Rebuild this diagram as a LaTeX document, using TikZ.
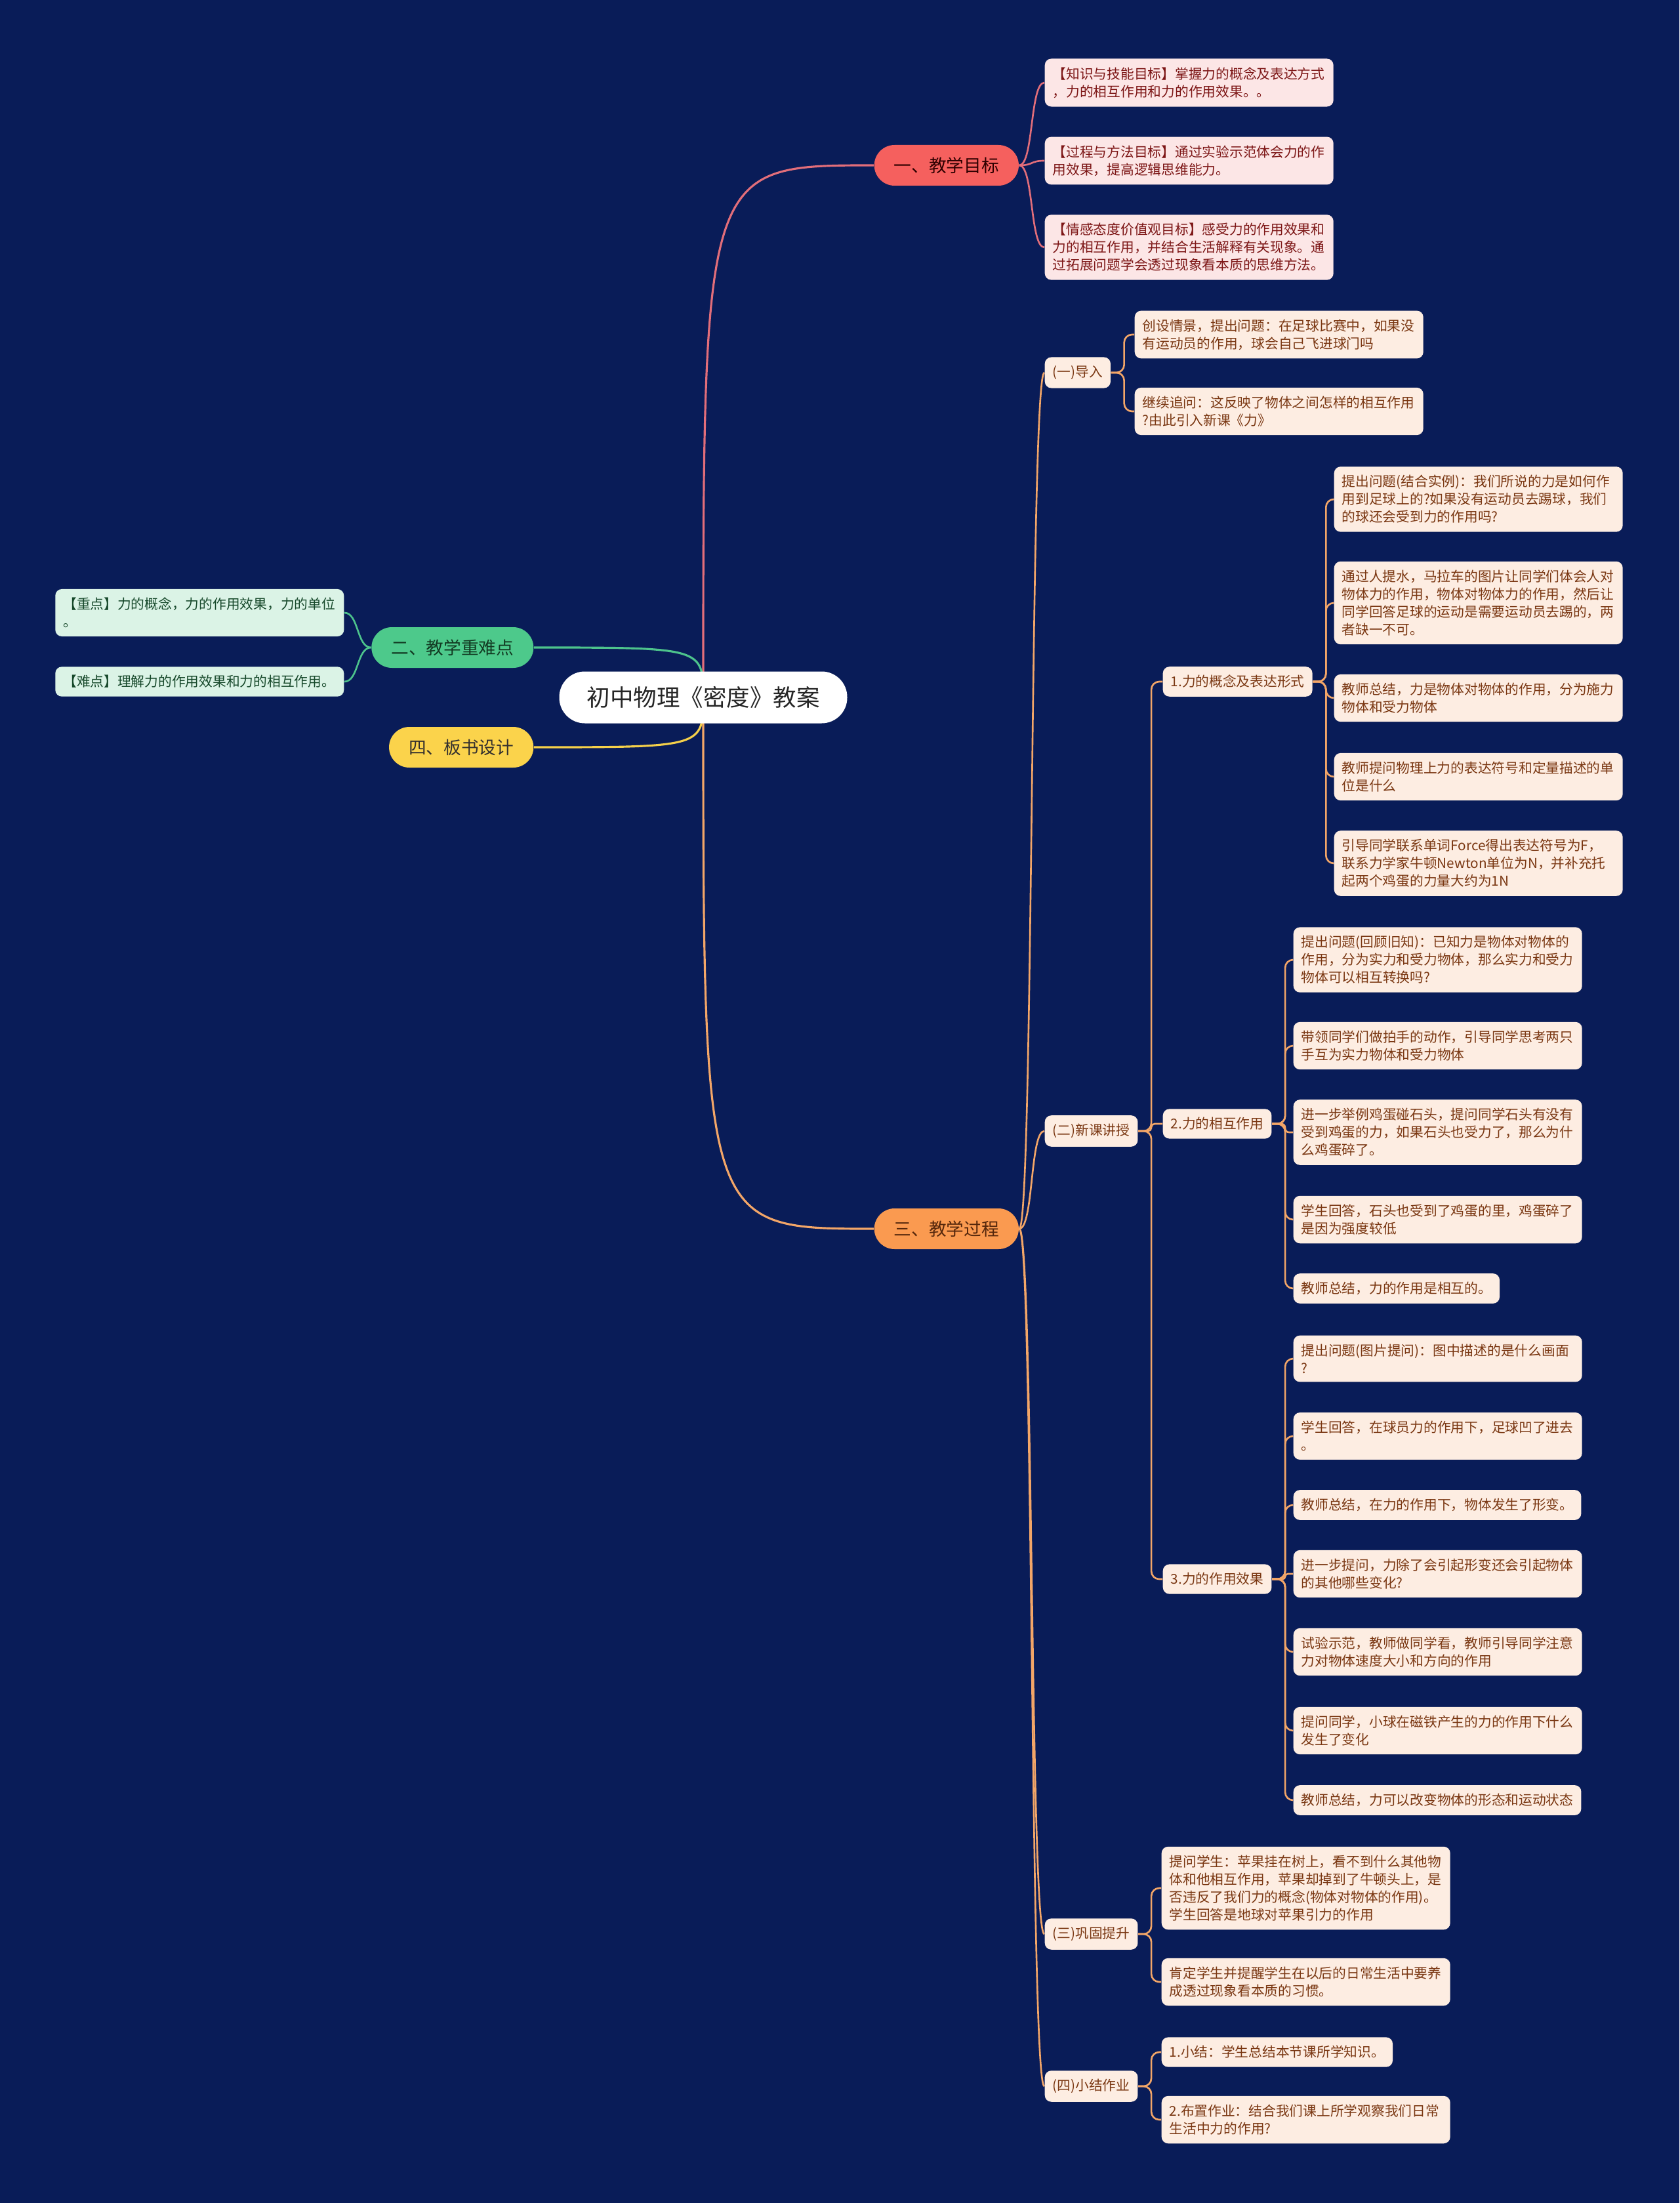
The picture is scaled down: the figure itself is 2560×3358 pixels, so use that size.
\documentclass[tikz,border=0pt]{standalone}
\usepackage{fontspec}
\newfontfamily\cjk{Noto Sans CJK SC}
\usetikzlibrary{backgrounds}
\definecolor{bgnavy}{RGB}{9,28,88}
\definecolor{redmain}{RGB}{245,96,94}
\definecolor{greenmain}{RGB}{77,201,139}
\definecolor{yellowmain}{RGB}{251,211,75}
\definecolor{orangemain}{RGB}{250,154,80}
\definecolor{redline}{RGB}{226,110,122}
\definecolor{orangeline}{RGB}{243,166,104}
\definecolor{greenline}{RGB}{77,195,140}
\definecolor{yellowline}{RGB}{245,208,74}
\definecolor{pinkleaf}{RGB}{252,230,230}
\definecolor{peachleaf}{RGB}{253,237,226}
\definecolor{mintleaf}{RGB}{219,243,230}
\definecolor{redtext}{RGB}{125,22,22}
\definecolor{browntext}{RGB}{122,55,18}
\definecolor{greentext}{RGB}{22,72,42}
\begin{document}
\begin{tikzpicture}[x=0.1mm,y=-0.1mm,line cap=round,line join=round,
	rootbox/.style={fill=white,text=black!85,rounded corners=3.9mm,minimum height=7.9mm,inner xsep=4.2mm,font=\cjk\fontsize{10.1}{12}\selectfont},
	mainbox/.style={rounded corners=3.1mm,minimum height=6.2mm,inner xsep=3mm,font=\cjk\fontsize{7.6}{9}\selectfont},
	leafbox/.style={rounded corners=1mm,align=left,inner xsep=1.2mm,inner ysep=1.3mm,font=\cjk\fontsize{5.9}{7.7}\selectfont},
	wide/.style={text width=41.6mm},
	goalleaf/.style={leafbox,wide,fill=pinkleaf,text=redtext,anchor=west},
	keyleaf/.style={leafbox,wide,fill=mintleaf,text=greentext,anchor=east},
	procleaf/.style={leafbox,fill=peachleaf,text=browntext,anchor=west},
	rootline/.style={line width=0.9pt},
	branch/.style={line width=0.75pt},
	elbow/.style={to path={-- ++(20,0) |- (\tikztotarget)}}]
	\def\cd{22}
	\def\xa{1592}
	\def\xb{1729}
	\def\xc{1772}
	\def\xd{2033}
	\def\xe{1971}
	
	\useasboundingbox (0,0) rectangle (2560,3358);
	
	\node[rootbox] (root) at (1072,1063) {初中物理《密度》教案};
	\node[mainbox,fill=redmain,text=black!70!red!60!black,anchor=west] (goal) at (1332,252) {一、教学目标};
	\node[mainbox,fill=greenmain,text=greentext!80!black,anchor=east] (keypt) at (814,987) {二、教学重难点};
	\node[mainbox,fill=yellowmain,text=black!80!yellow!40!black,anchor=east] (board) at (814,1139) {四、板书设计};
	\node[mainbox,fill=orangemain,text=browntext!70!black,anchor=west] (proc) at (1332,1873) {三、教学过程};
	
	% 一
	\node[goalleaf] (k1) at (\xa,126) {【知识与技能目标】掌握力的概念及表达方式\\，力的相互作用和力的作用效果。。};
	\node[goalleaf] (k2) at (\xa,245) {【过程与方法目标】通过实验示范体会力的作\\用效果，提高逻辑思维能力。};
	\node[goalleaf] (k3) at (\xa,377) {【情感态度价值观目标】感受力的作用效果和\\力的相互作用，并结合生活解释有关现象。通\\过拓展问题学会透过现象看本质的思维方法。};
	
	% 二
	\node[keyleaf] (z1) at (525,934) {【重点】力的概念，力的作用效果，力的单位\\。};
	\node[keyleaf] (z2) at (525,1039) {【难点】理解力的作用效果和力的相互作用。};
	
	% 三
	\node[procleaf] (d1) at (\xa,568) {(一)导入};
	\node[procleaf] (d2) at (\xa,1724) {(二)新课讲授};
	\node[procleaf] (d3) at (\xa,2948) {(三)巩固提升};
	\node[procleaf] (d4) at (\xa,3180) {(四)小结作业};
	
	\node[procleaf,wide] (e1) at (\xb,510) {创设情景，提出问题：在足球比赛中，如果没\\有运动员的作用，球会自己飞进球门吗};
	\node[procleaf,wide] (e2) at (\xb,627) {继续追问：这反映了物体之间怎样的相互作用\\?由此引入新课《力》};
	
	\node[procleaf] (f1) at (\xc,1039) {1.力的概念及表达形式};
	\node[procleaf] (f2) at (\xc,1713) {2.力的相互作用};
	\node[procleaf] (f3) at (\xc,2407) {3.力的作用效果};
	
	\node[procleaf,wide] (g1) at (\xd,761) {提出问题(结合实例)：我们所说的力是如何作\\用到足球上的?如果没有运动员去踢球，我们\\的球还会受到力的作用吗?};
	\node[procleaf,wide] (g2) at (\xd,919) {通过人提水，马拉车的图片让同学们体会人对\\物体力的作用，物体对物体力的作用，然后让\\同学回答足球的运动是需要运动员去踢的，两\\者缺一不可。};
	\node[procleaf,wide] (g3) at (\xd,1064) {教师总结，力是物体对物体的作用，分为施力\\物体和受力物体};
	\node[procleaf,wide] (g4) at (\xd,1184) {教师提问物理上力的表达符号和定量描述的单\\位是什么};
	\node[procleaf,wide] (g5) at (\xd,1316) {引导同学联系单词Force得出表达符号为F，\\联系力学家牛顿Newton单位为N，并补充托\\起两个鸡蛋的力量大约为1N};
	
	\node[procleaf,wide] (h1) at (\xe,1463) {提出问题(回顾旧知)：已知力是物体对物体的\\作用，分为实力和受力物体，那么实力和受力\\物体可以相互转换吗?};
	\node[procleaf,wide] (h2) at (\xe,1594) {带领同学们做拍手的动作，引导同学思考两只\\手互为实力物体和受力物体};
	\node[procleaf,wide] (h3) at (\xe,1726) {进一步举例鸡蛋碰石头，提问同学石头有没有\\受到鸡蛋的力，如果石头也受力了，那么为什\\么鸡蛋碎了。};
	\node[procleaf,wide] (h4) at (\xe,1859) {学生回答，石头也受到了鸡蛋的里，鸡蛋碎了\\是因为强度较低};
	\node[procleaf] (h5) at (\xe,1964) {教师总结，力的作用是相互的。};
	
	\node[procleaf,wide] (i1) at (\xe,2071) {提出问题(图片提问)：图中描述的是什么画面\\?};
	\node[procleaf,wide] (i2) at (\xe,2189) {学生回答，在球员力的作用下，足球凹了进去\\。};
	\node[procleaf] (i3) at (\xe,2294) {教师总结，在力的作用下，物体发生了形变。};
	\node[procleaf,wide] (i4) at (\xe,2399) {进一步提问，力除了会引起形变还会引起物体\\的其他哪些变化?};
	\node[procleaf,wide] (i5) at (\xe,2518) {试验示范，教师做同学看，教师引导同学注意\\力对物体速度大小和方向的作用};
	\node[procleaf,wide] (i6) at (\xe,2638) {提问同学，小球在磁铁产生的力的作用下什么\\发生了变化};
	\node[procleaf] (i7) at (\xe,2744) {教师总结，力可以改变物体的形态和运动状态};
	
	\node[procleaf,wide] (j1) at (1770,2878) {提问学生：苹果挂在树上，看不到什么其他物\\体和他相互作用，苹果却掉到了牛顿头上，是\\否违反了我们力的概念(物体对物体的作用)。\\学生回答是地球对苹果引力的作用};
	\node[procleaf,wide] (j2) at (1770,3021) {肯定学生并提醒学生在以后的日常生活中要养\\成透过现象看本质的习惯。};
	
	\node[procleaf] (m1) at (1770,3128) {1.小结：学生总结本节课所学知识。};
	\node[procleaf,wide] (m2) at (1770,3231) {2.布置作业：结合我们课上所学观察我们日常\\生活中力的作用?};
	
	\begin{scope}[on background layer]
		\fill[bgnavy] (0,0) rectangle (2560,3358);
		% from the title
		\draw[rootline,redline] (root.center) .. controls (root.center |- goal.west) .. (goal.west);
		\draw[rootline,orangeline] (root.center) .. controls (root.center |- proc.west) .. (proc.west);
		\draw[rootline,greenline] (root.center) .. controls (root.center |- keypt.east) .. (keypt.east);
		\draw[rootline,yellowline] (root.center) .. controls (root.center |- board.east) .. (board.east);
		% topics
		\foreach \c in {k1,k2,k3}
			\draw[branch,redline] (goal.east) .. controls +(\cd,0) and +(-\cd,0) .. (\c.west);
		\foreach \c in {z1,z2}
			\draw[branch,greenline] (keypt.west) .. controls +(-\cd,0) and +(\cd,0) .. (\c.east);
		\foreach \c in {d1,d2,d3,d4}
			\draw[branch,orangeline] (proc.east) .. controls +(\cd,0) and +(-\cd,0) .. (\c.west);
		% brackets
		\foreach \c/\r in {e1/1.2,e2/1.2}
			\draw[branch,orangeline,rounded corners=\r mm] (d1.east) to[elbow] (\c.west);
		\foreach \c/\r in {f1/1.2,f2/0.5,f3/1.2}
			\draw[branch,orangeline,rounded corners=\r mm] (d2.east) to[elbow] (\c.west);
		\foreach \c/\r in {g1/1.2,g2/1.2,g3/1.2,g4/1.2,g5/1.2}
			\draw[branch,orangeline,rounded corners=\r mm] (f1.east) to[elbow] (\c.west);
		\foreach \c/\r in {h1/1.2,h2/1.2,h3/0.6,h4/1.2,h5/1.2}
			\draw[branch,orangeline,rounded corners=\r mm] (f2.east) to[elbow] (\c.west);
		\foreach \c/\r in {i1/1.2,i2/1.2,i3/1.2,i4/0.4,i5/1.2,i6/1.2,i7/1.2}
			\draw[branch,orangeline,rounded corners=\r mm] (f3.east) to[elbow] (\c.west);
		\foreach \c/\r in {j1/1.2,j2/1.2}
			\draw[branch,orangeline,rounded corners=\r mm] (d3.east) to[elbow] (\c.west);
		\foreach \c/\r in {m1/1.2,m2/1.2}
			\draw[branch,orangeline,rounded corners=\r mm] (d4.east) to[elbow] (\c.west);
	\end{scope}
\end{tikzpicture}
\end{document}
